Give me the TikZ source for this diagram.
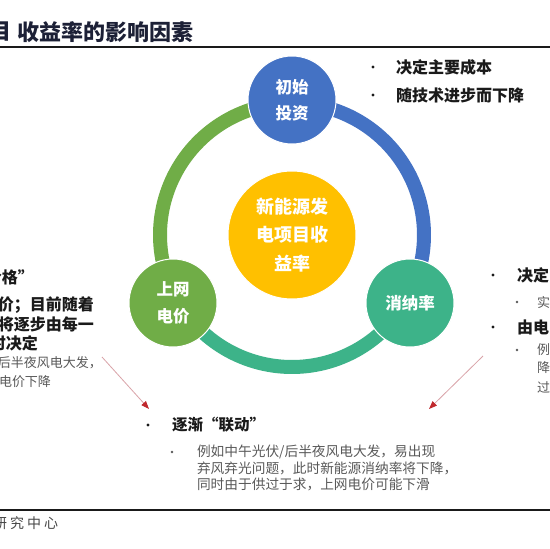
\documentclass[tikz,border=0pt]{standalone}
\usepackage{fontspec}
\setmainfont{Noto Sans CJK SC}
\usetikzlibrary{arrows.meta}
\definecolor{cblue}{HTML}{4472C4}
\definecolor{cgreen}{HTML}{70AD47}
\definecolor{cteal}{HTML}{3DB389}
\definecolor{cyellow}{HTML}{FFC000}
\definecolor{ctitle}{HTML}{1C2036}
\definecolor{cdark}{HTML}{1A1A1A}
\definecolor{cgray}{HTML}{595959}
\definecolor{cline}{HTML}{D9A3A8}
\definecolor{ctip}{HTML}{C0282D}
\begin{document}
\begin{tikzpicture}[x=1pt,y=-1pt,
  ring/.style={line width=14pt},
  bub/.style={circle, minimum size=88pt, inner sep=0pt, draw=white, line width=1pt,
    text=white, align=center, font=\fontsize{16.5}{26.5}\selectfont\bfseries},
  core/.style={circle, minimum size=128pt, inner sep=0pt, draw=white, line width=1pt,
    fill=cyellow, text=white, align=center, font=\fontsize{18}{28.5}\selectfont\bfseries},
  btxt/.style={inner sep=0pt, outer sep=0pt, text=cdark, font=\fontsize{16}{16}\selectfont\bfseries},
  gtxt/.style={inner sep=0pt, outer sep=0pt, text=cgray, font=\fontsize{13}{13}\selectfont},
  bul/.style={circle, fill=cdark, inner sep=0pt, minimum size=3.2pt},
  sbul/.style={circle, fill=cgray, inner sep=0pt, minimum size=2.6pt},
  link/.style={draw=cline, line width=0.8pt, -{Triangle[length=8pt,width=6pt,color=ctip]}}
]
\useasboundingbox (0,0) rectangle (550,549);
\clip (0,0) rectangle (550,549);
\fill[white] (0,0) rectangle (550,549);

% title and rules
\node[inner sep=0pt, anchor=east, text=ctitle, font=\fontsize{22}{22}\selectfont\bfseries] (t1) at (12,32) {目};
\node[inner sep=0pt, anchor=west, text=ctitle, font=\fontsize{22}{22}\selectfont\bfseries] (t2) at (17,32) {收益率的影响因素};
\draw[cdark, line width=1.6pt] (0,47) -- (550,47);
\draw[cdark, line width=1.3pt] (0,510) -- (550,510);
\node[inner sep=0pt, anchor=west, text=cgray!80!black, font=\fontsize{14}{14}\selectfont] (src) at (-7,523) {研\hspace{3pt}究\hspace{3pt}中\hspace{3pt}心};

% ring
\coordinate (O) at (292,235);
\draw[ring, cgreen] plot[domain=150:270, samples=90] ({292+132*cos(\x)},{235+132*sin(\x)});
\draw[ring, cblue] plot[domain=-90:30, samples=90] ({292+132*cos(\x)},{235+132*sin(\x)});
\draw[ring, cteal] plot[domain=30:150, samples=90] ({292+132*cos(\x)},{235+132*sin(\x)});

% circles
\node[bub, fill=cblue] (inv) at (292,100) {初始\\投资};
\node[bub, fill=cgreen] (price) at (173,303) {上网\\电价};
\node[bub, fill=cteal] (absorb) at (410,303) {消纳率};
\node[core] (yield) at (O) {新能源发\\电项目收\\益率};

% top right text
\node[bul] (tb1) at (373,67) {};
\node[btxt, anchor=west] (tt1) at (396,67) {决定主要成本};
\node[bul] (tb2) at (373,95) {};
\node[btxt, anchor=west] (tt2) at (396,95) {随技术进步而下降};

% left text (cut off)
\node[btxt, anchor=west] (l1) at (-14,277) {价格”};
\node[btxt, anchor=east] (l2) at (94,305) {价；目前随着};
\node[btxt, anchor=east] (l3) at (94,324) {将逐步由每一};
\node[btxt, anchor=east] (l4) at (38,343) {时决定};
\node[gtxt, anchor=east] (l5) at (102,363) {后半夜风电大发，};
\node[gtxt, anchor=east] (l6) at (51,382) {电价下降};

% right text (cut off)
\node[bul] (rb1) at (493,275) {};
\node[btxt, anchor=west] (r1) at (517,275) {决定};
\node[sbul] (rs1) at (517,302) {};
\node[gtxt, anchor=west] (r2) at (537,302) {实};
\node[bul] (rb2) at (493,327) {};
\node[btxt, anchor=west] (r3) at (517,327) {由电};
\node[sbul] (rs2) at (517,350) {};
\node[gtxt, anchor=west] (r4) at (537,350) {例};
\node[gtxt, anchor=west] (r5) at (537,368) {降};
\node[gtxt, anchor=west] (r6) at (537,387) {过};

% bottom text
\node[bul] (bb1) at (148,425) {};
\node[btxt, anchor=west, font=\fontsize{15.5}{15.5}\selectfont\bfseries] (b1) at (172,425) {逐渐“联动”};
\node[sbul] (bs1) at (172,452) {};
\node[gtxt, anchor=west, font=\fontsize{13.7}{13.7}\selectfont] (b2) at (197,452) {例如中午光伏/后半夜风电大发，易出现};
\node[gtxt, anchor=west, font=\fontsize{13.7}{13.7}\selectfont] (b3) at (197,468) {弃风弃光问题，此时新能源消纳率将下降，};
\node[gtxt, anchor=west, font=\fontsize{13.7}{13.7}\selectfont] (b4) at (197,484) {同时由于供过于求，上网电价可能下滑};

% arrows
\coordinate (a1s) at (102,357);
\coordinate (a1e) at (149,409);
\coordinate (a2s) at (483,356);
\coordinate (a2e) at (429,409);
\draw[link] (a1s) -- (a1e);
\draw[link] (a2s) -- (a2e);
\end{tikzpicture}
\end{document}
